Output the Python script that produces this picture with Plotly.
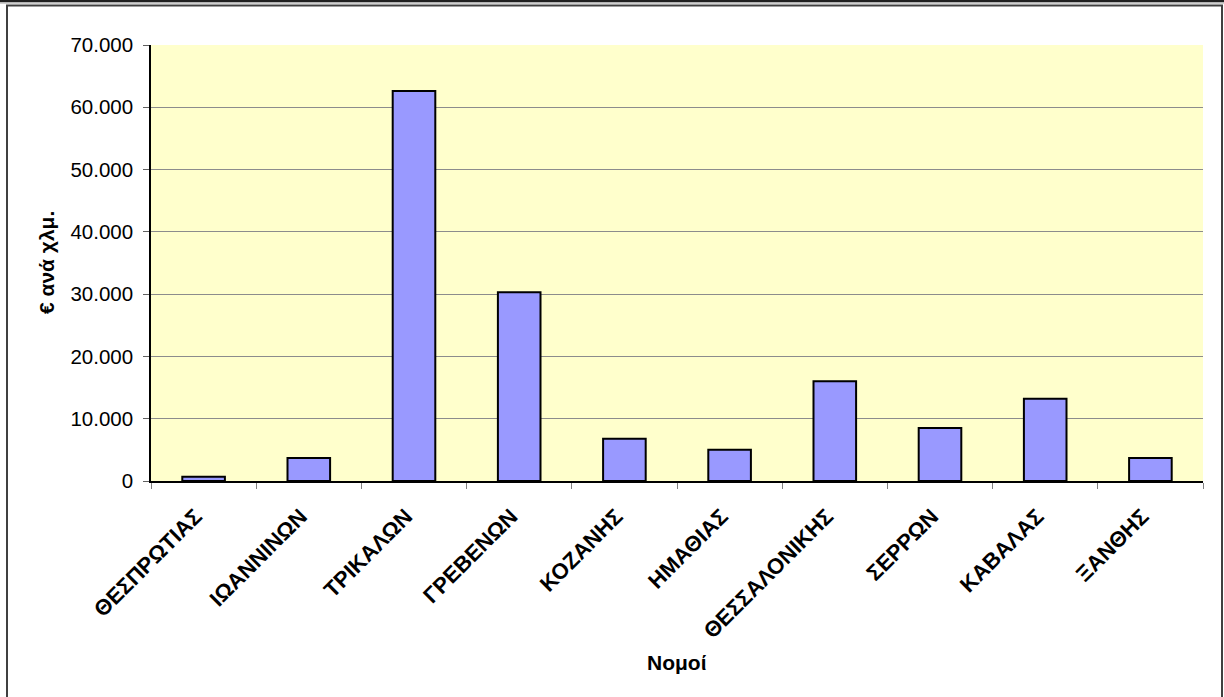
import plotly.graph_objects as go

categories = ["ΘΕΣΠΡΩΤΙΑΣ", "ΙΩΑΝΝΙΝΩΝ", "ΤΡΙΚΑΛΩΝ", "ΓΡΕΒΕΝΩΝ", "ΚΟΖΑΝΗΣ",
              "ΗΜΑΘΙΑΣ", "ΘΕΣΣΑΛΟΝΙΚΗΣ", "ΣΕΡΡΩΝ", "ΚΑΒΑΛΑΣ", "ΞΑΝΘΗΣ"]
values = [700, 3700, 62600, 30300, 6800, 5000, 16000, 8500, 13200, 3700]
y_ticks = [0, 10000, 20000, 30000, 40000, 50000, 60000, 70000]
y_title = "€ ανά χλμ."
x_title = "Νομοί"

W, H = 1224, 697
L, R, T, B = 151, 21, 45, 216
pw, ph = W - L - R, H - T - B

def px(x):
    return (x - L) / pw

def py(y):
    return (H - B - y) / ph

font = "Liberation Sans, Arial, sans-serif"

fig = go.Figure(go.Bar(
    x=categories, y=values,
    marker=dict(color="#9999FF", line=dict(color="black", width=2)),
))

fig.update_layout(
    width=W, height=H,
    margin=dict(l=L, r=R, t=T, b=B, pad=0),
    paper_bgcolor="white",
    plot_bgcolor="#FFFFCC",
    separators=",.",
    bargap=0.595,
    showlegend=False,
    font=dict(family=font, color="black", size=20),
    xaxis=dict(
        tickangle=-45, tickfont=dict(size=22, family=font, weight="bold"),
        showline=True, linecolor="black", linewidth=1.5,
        ticks="outside", tickson="boundaries", ticklen=6, tickcolor="#808080",
        ticklabelstandoff=12, ticklabelshift=-8,
        showgrid=False, fixedrange=True,
    ),
    yaxis=dict(
        range=[0, 70000], tickvals=y_ticks, tickformat=",d",
        tickfont=dict(size=20.5, family=font),
        showline=True, linecolor="black", linewidth=1.5,
        ticks="outside", ticklen=6, tickcolor="#606060",
        ticklabelstandoff=6,
        showgrid=True, gridcolor="#8C8C8C", gridwidth=1,
        zeroline=False, fixedrange=True,
    ),
    annotations=[
        dict(text=y_title, x=px(46), y=py(263), xref="paper", yref="paper",
             textangle=-90, showarrow=False, font=dict(size=21, family=font, weight="bold"),
             xanchor="center", yanchor="middle"),
        dict(text=x_title, x=px(677), y=py(662), xref="paper", yref="paper",
             showarrow=False, font=dict(size=21, family=font, weight="bold"),
             xanchor="center", yanchor="middle"),
    ],
    shapes=[
        dict(type="line", xref="paper", yref="paper", x0=px(-5), x1=px(W + 5),
             y0=py(1), y1=py(1), line=dict(color="#202020", width=2.5)),
        dict(type="line", xref="paper", yref="paper", x0=px(-5), x1=px(W + 5),
             y0=py(3), y1=py(3), line=dict(color="#A0A0A0", width=1)),
        dict(type="rect", xref="paper", yref="paper", x0=px(7), x1=px(1222),
             y0=py(5.5), y1=py(H + 10), line=dict(color="#404040", width=2)),
    ],
)

fig.write_html("out.html", config={"displayModeBar": False},
               post_script="document.body.style.margin='0';")
